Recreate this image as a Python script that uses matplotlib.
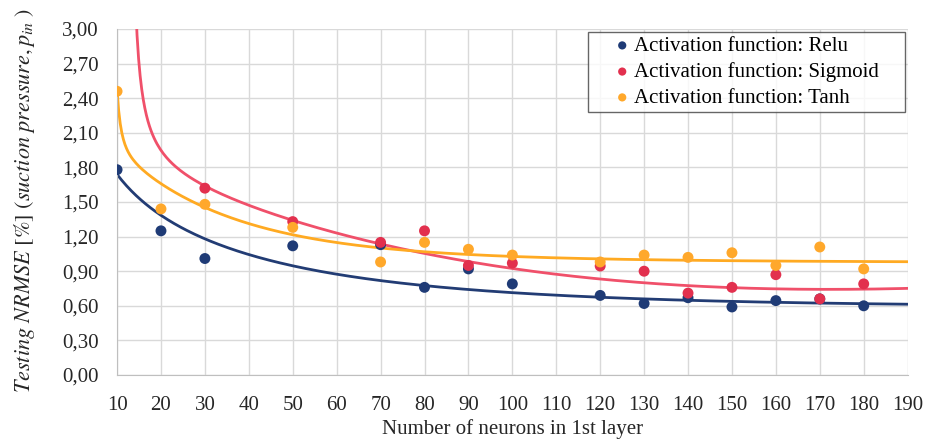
import matplotlib.pyplot as plt
import numpy as np

plt.rcParams['font.family'] = ['Liberation Serif', 'DejaVu Serif']
plt.rcParams['mathtext.fontset'] = 'stix'

neurons = [10, 20, 30, 50, 70, 80, 90, 100, 120, 130, 140, 150, 160, 170, 180]
relu = [1.78, 1.25, 1.01, 1.12, 1.13, 0.76, 0.92, 0.79, 0.69, 0.62, 0.67, 0.59, 0.645, 0.66, 0.60]
sigmoid = [None, None, 1.62, 1.33, 1.15, 1.25, 0.95, 0.97, 0.945, 0.90, 0.71, 0.76, 0.87, 0.66, 0.79]
tanh = [2.46, 1.44, 1.48, 1.28, 0.98, 1.15, 1.09, 1.04, 0.98, 1.04, 1.02, 1.06, 0.95, 1.11, 0.92]

# trend line values
trend_x_relu = [10, 20, 30, 40, 50, 70, 80, 90, 100, 120, 130, 140, 150, 160, 180, 190]
trend_relu = [1.735, 1.41, 1.156, 1.026, 0.96, 0.838, 0.78, 0.743, 0.708, 0.672, 0.65, 0.64, 0.633, 0.628, 0.624, 0.624]
trend_x_sigmoid = [14.5, 15.6, 18.3, 20, 23.6, 30, 40, 50, 70, 80, 90, 100, 120, 130, 140, 150, 160, 180, 190]
trend_sigmoid = [2.99, 2.456, 2.08, 1.98, 1.79, 1.62, 1.46, 1.344, 1.14, 1.07, 0.98, 0.916, 0.838, 0.80, 0.77, 0.754, 0.746, 0.749, 0.75]
trend_x_tanh = [10, 11, 11.5, 14.5, 20, 30, 40, 50, 70, 80, 90, 100, 120, 140, 160, 190]
trend_tanh = [2.47, 2.17, 1.99, 1.82, 1.66, 1.46, 1.33, 1.21, 1.098, 1.07, 1.04, 1.02, 0.997, 0.99, 0.99, 1.0]

names = ['Activation function: Relu', 'Activation function: Sigmoid', 'Activation function: Tanh']
dot_colors = ['#1F3B76', '#E2304E', '#FFA82B']
line_colors = ['#223C74', '#F0506A', '#FFAA22']
poles = [-15.0, 12.4, 8.0]
tails = ['exp', 'poly', 'exp']


def smooth_fit(xa, ya, x0, tail, xs):
    def basis(t):
        t = np.asarray(t, dtype=float)
        u = 1 / (t - x0)
        if tail == 'exp':
            extra = [np.exp(-t / 25), np.exp(-t / 60)]
        else:
            extra = [t / 100, (t / 100) ** 2, (t / 100) ** 3]
        return np.column_stack([np.ones_like(t), u, u ** 2] + extra)
    coef, *_ = np.linalg.lstsq(basis(xa), np.asarray(ya), rcond=None)
    return basis(xs) @ coef


fig = plt.figure(figsize=(9.29, 4.43), dpi=100)
ax = fig.add_axes([0.126, 0.1535, 0.851, 0.781])

series = [(relu, trend_x_relu, trend_relu), (sigmoid, trend_x_sigmoid, trend_sigmoid),
          (tanh, trend_x_tanh, trend_tanh)]
for (vals, tx, ty), name, dc, lc, x0, tail in zip(series, names, dot_colors, line_colors, poles, tails):
    x = [n for n, v in zip(neurons, vals) if v is not None]
    y = [v for v in vals if v is not None]
    xs = np.linspace(tx[0] - 0.3 if x0 > 10 else tx[0], 190, 500)
    ax.plot(xs, smooth_fit(tx, ty, x0, tail, xs), color=lc, lw=2, zorder=2)
    ax.scatter(x, y, s=62, color=dc, label=name, zorder=3, edgecolors='none')

ax.set_xlim(10, 190)
ax.set_ylim(0, 3.0)
ax.set_xticks(np.arange(10, 191, 10))
yt = np.arange(0, 3.01, 0.3)
ax.set_yticks(yt)
ax.set_yticklabels([f'{v:.2f}'.replace('.', ',') for v in yt])
ax.tick_params(length=0, labelsize=15, colors='#262626')
ax.tick_params(axis='x', pad=15)
ax.tick_params(axis='y', pad=13)
ax.grid(True, color='#D9D9D9', lw=1)
ax.set_axisbelow(True)
for s in ['top', 'right']:
    ax.spines[s].set_visible(False)
for s in ['left', 'bottom']:
    ax.spines[s].set_color('#BFBFBF')

ax.set_xlabel('Number of neurons in 1st layer', fontsize=15, color='#262626', labelpad=3)
ax.set_ylabel(r'$Testing\ NRMSE\ \mathrm{[\%]}\ (suction\ pressure, p_{in}\ )$', fontsize=16, color='#262626')
ax.yaxis.set_label_coords(-0.101, 0.506)

leg = ax.legend(loc='upper left', bbox_to_anchor=(0.5955, 0.771, 0.401, 0.22), mode='expand',
                borderaxespad=0, fontsize=15, frameon=True, fancybox=False,
                handlelength=2.9, handletextpad=-0.9, borderpad=0.2, labelspacing=0.3,
                markerscale=0.75)
leg.get_frame().set_edgecolor('#404040')
leg.get_frame().set_linewidth(1)

fig.savefig('out.png', dpi=100)
